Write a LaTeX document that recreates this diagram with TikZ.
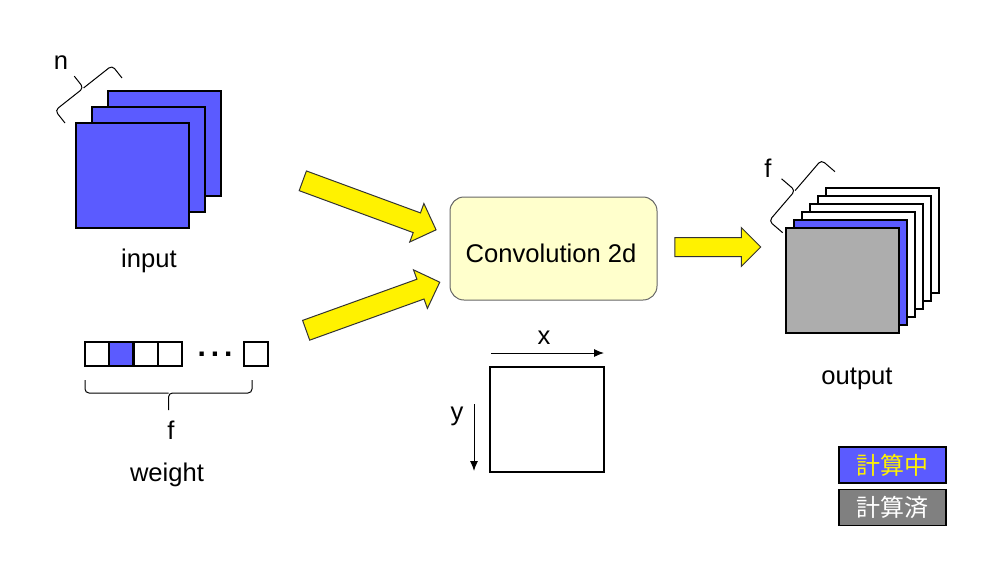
\documentclass[tikz,border=0pt]{standalone}
\usepackage{fontspec}
\setmainfont{Liberation Sans}
\newfontfamily\cjkfont{Noto Sans CJK JP}
\usetikzlibrary{positioning}
\usetikzlibrary{calc,arrows.meta}
\usetikzlibrary{shapes.arrows}
\definecolor{calcblue}{HTML}{5B5BFF}
\definecolor{donegray}{HTML}{ADADAD}
\definecolor{legendgray}{HTML}{808080}
\definecolor{convyellow}{HTML}{FFFFCC}
\newcommand\featuremap[3]{%
	\filldraw[fill=#3] (#1,#2) rectangle ++(113,105);}
\newcommand\weightcell[2]{%
	\filldraw[fill=#2] (#1,342) rectangle ++(24,24);}
% angular brace: from, to, spine depth, tip depth
\newcommand\anglebrace[4]{%
	\draw[rounded corners=2pt, line width=0.5pt] (#1)
	  -- ($(#1)!#3!90:(#2)$)
	  -- ($($(#1)!0.5!(#2)$)!#3!90:(#2)$)
	  -- ($($(#1)!0.5!(#2)$)!#4!90:(#2)$);
	\draw[rounded corners=2pt, line width=0.5pt] (#2)
	  -- ($(#2)!#3!-90:(#1)$)
	  -- ($($(#1)!0.5!(#2)$)!#3!90:(#2)$);
}

\begin{document}
\begin{tikzpicture}[x=0.5pt,y=-0.5pt,line width=0.75pt,
	label/.style={font=\fontsize{12.8}{15}\selectfont, inner sep=0pt, yshift=-1.5pt},
	fatarrow/.style={single arrow, draw=black!80, fill=yellow, line width=0.5pt,
		inner sep=5pt, single arrow head extend=5pt, minimum height=71pt},
	legend/.style={draw, line width=0.75pt, minimum width=53.5pt, minimum height=18pt,
		inner sep=0pt, font=\cjkfont\fontsize{12}{14}\selectfont}]
	\useasboundingbox (0,0) rectangle (1005,564);
	% input
	\featuremap{108}{91}{calcblue}
	\featuremap{92}{107}{calcblue}
	\featuremap{76}{123}{calcblue}
	\anglebrace{65,123}{122,78}{8pt}{15.5pt}
	\node[label] (n) at (61,60) {n};
	\node[label] (input) at (149,258) {input};
	% weight
	\weightcell{85}{white}
	\weightcell{109}{calcblue}
	\weightcell{134}{white}
	\weightcell{158}{white}
	\weightcell{244}{white}
	\node[label, font=\fontsize{15}{17}\selectfont] (dots) at (215,351) {\bfseries .\hspace{2.5pt}.\hspace{2.5pt}.};
	\anglebrace{252,380}{85,380}{6.5pt}{15pt}
	\node[label] (wf) at (171,427) {f};
	\node[label] (weight) at (167,472) {weight};
	% convolution
	\node[draw=black!60, line width=0.5pt, fill=convyellow, rounded corners=7pt,
		minimum width=103.5pt, minimum height=51.5pt] (conv) at (553.5,248.5) {};
	\node[label] (convtext) at (551,250) {Convolution 2d};
	\node[fatarrow, rotate=-20.2] (in2conv) at (364.5,203.5) {};
	\node[fatarrow, rotate=19.8] (w2conv) at (368,308) {};
	\node[fatarrow, inner sep=4.5pt, minimum height=43pt] (conv2out) at (713,247) {};
	% axes
	\draw (490,367) rectangle (604,472);
	\coordinate (xa) at (491,353);
	\coordinate (xb) at (604,353);
	\coordinate (ya) at (474,404);
	\coordinate (yb) at (474,471);
	\draw[-{Latex[length=5pt,width=4pt]}, line width=0.5pt] (xa) -- (xb);
	\draw[-{Latex[length=5pt,width=4pt]}, line width=0.5pt] (ya) -- (yb);
	\node[label] (xl) at (544,335) {x};
	\node[label] (yl) at (457,413) {y};
	% output
	\foreach \k in {5,4,3,2}
		\featuremap{786+8*\k}{228-8*\k}{white};
	\featuremap{794}{220}{calcblue}
	\featuremap{786}{228}{donegray}
	\anglebrace{782.7,232.7}{835,171.7}{9pt}{18pt}
	\node[label] (of) at (768,165) {f};
	\node[label] (output) at (857,376) {output};
	% legend
	\node[legend, fill=calcblue, text=yellow] (busy) at (892.5,465) {計算中};
	\node[legend, fill=legendgray, text=white] (done) at (892.5,507.5) {計算済};
\end{tikzpicture}
\end{document}
